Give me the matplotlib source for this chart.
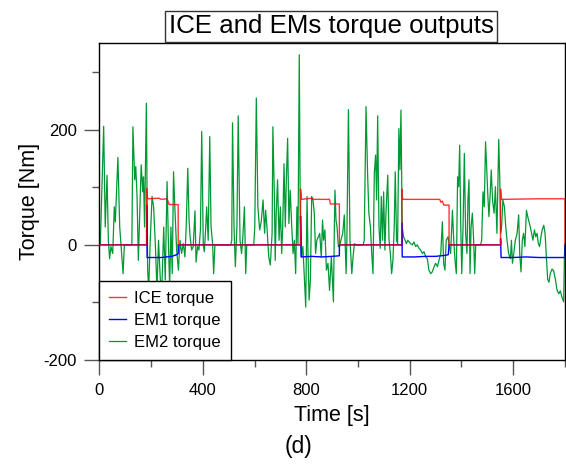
import matplotlib
matplotlib.use('Agg')
import matplotlib.pyplot as plt
from matplotlib.ticker import MultipleLocator

plt.rcParams['font.family'] = ['Liberation Sans', 'DejaVu Sans']
plt.rcParams['axes.unicode_minus'] = False

# ICE torque (step profile)
ice_t = [0, 183, 183, 186, 188, 230, 240, 262, 270, 305, 305,
         778, 778, 781, 783, 820, 830, 890, 893, 928, 928,
         1169, 1169, 1172, 1174, 1316, 1320, 1326, 1332, 1352, 1352,
         1551, 1551, 1554, 1556, 1700, 1800, 1800]
ice_v = [0, 0, 98, 82, 80, 81, 79, 80, 70, 70, 0,
         0, 97, 82, 79, 81, 79, 79, 71, 71, 0,
         0, 97, 82, 79, 79, 74, 76, 69, 69, 0,
         0, 97, 82, 79, 80, 80, 0]

# EM1 torque
em1_t = [0, 183, 183, 185, 200, 240, 260, 280, 300, 305, 305,
         778, 778, 780, 820, 860, 900, 928, 928,
         1169, 1169, 1171, 1220, 1260, 1300, 1340, 1349, 1352,
         1551, 1551, 1553, 1600, 1650, 1700, 1750, 1800, 1800]
em1_v = [0, 0, 69, -22, -22, -22, -21, -20, -17, -15, 0,
         0, 50, -21, -20, -21, -20, -19, 0,
         0, 38, -21, -21, -20, -20, -18, -17, 0,
         0, 11, -22, -22, -21, -22, -22, -22, 0]

# EM2 torque
em2_t = [0, 4, 17, 23, 30, 35, 40, 45, 52, 58, 62, 72, 79, 84, 92, 97, 126,
         130, 137, 141, 146, 151, 156, 162, 168, 171, 175, 182, 187, 191, 197,
         204, 210, 217, 223, 229, 236, 242, 249, 255, 262, 267, 272, 277, 282,
         287, 292, 299, 306, 312, 318, 325, 331, 336, 342, 347, 351, 357, 363,
         370, 374, 380, 385, 391, 396, 402, 406, 411, 415, 421, 427, 432, 438,
         442, 447, 508, 512, 515, 521, 526, 532, 537, 544, 550, 555, 561, 566,
         570, 597, 601, 607, 613, 620, 626, 633, 639, 643, 648, 655, 661, 668,
         671, 677, 680, 684, 689, 695, 700, 705, 709, 714, 719, 723, 728, 733,
         738, 744, 749, 754, 759, 764, 768, 773, 777, 782, 787, 793, 798, 803,
         807, 811, 816, 821, 826, 831, 836, 841, 847, 852, 858, 863, 867, 872,
         878, 884, 890, 897, 901, 905, 909, 911, 915, 919, 924, 929, 934, 941,
         947, 954, 957, 963, 969, 976, 981, 986, 992, 1020, 1024, 1031, 1037,
         1042, 1048, 1053, 1058, 1063, 1068, 1072, 1076, 1081, 1086, 1090, 1095,
         1099, 1104, 1108, 1115, 1120, 1125, 1130, 1135, 1140, 1144, 1149, 1153,
         1158, 1162, 1166, 1169, 1171, 1176, 1182, 1187, 1192, 1198, 1203, 1210,
         1216, 1223, 1229, 1236, 1242, 1249, 1255, 1262, 1268, 1274, 1281, 1287,
         1294, 1300, 1307, 1313, 1320, 1326, 1331, 1336, 1341, 1348, 1352, 1358,
         1365, 1370, 1375, 1380, 1385, 1389, 1393, 1397, 1401, 1406, 1411, 1416,
         1421, 1425, 1429, 1433, 1437, 1442, 1447, 1451, 1455, 1474, 1478, 1483,
         1488, 1493, 1499, 1502, 1506, 1511, 1515, 1520, 1526, 1531, 1537, 1544,
         1548, 1551, 1555, 1560, 1566, 1571, 1576, 1582, 1589, 1593, 1597, 1602,
         1608, 1615, 1621, 1625, 1630, 1635, 1640, 1645, 1651, 1656, 1661, 1666,
         1671, 1676, 1682, 1687, 1692, 1697, 1702, 1707, 1712, 1718, 1723, 1728,
         1733, 1738, 1743, 1750, 1756, 1763, 1769, 1776, 1782, 1789, 1795, 1798,
         1800]
em2_v = [5, 0, 206, 31, 121, 8, -24, -3, -15, 66, 40, 152, 31, 0, -50, 0, 0,
         205, 113, 136, 84, -27, 49, 139, 92, 118, 31, 246, -44, -76, 8,
         84, 66, -3, -79, 8, -61, -73, 31, -61, 110, 8, -73, 31, -50,
         127, 66, -9, -44, 8, -15, 2, -21, 31, 133, 43, 14, -9, -3,
         59, -30, -3, -9, 26, 197, 0, -12, 26, 66, 8, 188, 31, 2,
         -50, 0, 0, 8, 212, 26, -38, 31, 224, 8, -15, 14, 66, -50,
         0, 0, 31, 255, 66, 26, 40, 78, 20, 60, 31, -21, -35, 20,
         205, 78, -27, 55, 113, 8, 66, -15, 31, 141, 31, 113, 185, 37,
         95, 31, -15, 8, -50, 66, 2, 330, 43, -21, -3, -61, -108, 84,
         -21, -96, -61, 84, 78, 55, -15, 8, 14, 20, -21, 43, 8, 26,
         -44, -32, -79, -21, -61, -99, 43, 95, 43, 31, -3, -3, 8, 20,
         52, -50, 8, 235, 8, -50, -21, 2, 0, 0, 8, 240, 124,
         55, 31, -15, -50, 124, 156, 78, 224, 31, -6, 84, 8,
         92, -9, 55, 121, 8, -15, -50, -27, 31, 127, 8, 2,
         202, 130, 234, 107, 31, 14, 8, 2, 8, 5, 2, 0,
         5, -3, 0, -6, -9, -15, -12, -21, -24, -44, -50, -47,
         -38, -32, -38, -27, -15, 40, -32, -44, 8, 14, 0, -15,
         60, 8, -27, -50, 118, 101, 173, 37, -50, 31, 159, 20,
         -15, 78, 113, -50, 31, 55, 8, -50, 0, 0, 8, 92,
         66, 179, 113, 84, 49, 89, 130, 78, 55, 101, 20, 183,
         113, 20, 31, 78, 66, 31, 8, -15, -24, 8, -32, -15,
         8, 20, 52, -15, -47, 8, 20, -3, 60, 49, 40, 31,
         20, 8, 26, 14, 20, 2, -3, 14, 26, 34, 20, -21,
         -60, -65, -50, -42, -45, -60, -78, -85, -80, -92, -99, -15,
         0]

fig = plt.figure(figsize=(5.66, 4.74), dpi=100)
ax = fig.add_axes([0.1754, 0.2405, 0.8228, 0.6681])

l_em2, = ax.plot(em2_t, em2_v, color='#009933', lw=0.9, label='EM2 torque', zorder=1)
l_em1, = ax.plot(em1_t, em1_v, color='#0000ff', lw=1.0, label='EM1 torque', zorder=2)
l_ice, = ax.plot(ice_t, ice_v, color='#ff0000', lw=1.0, alpha=0.8, label='ICE torque', zorder=3)

ax.set_xlim(0, 1800)
ax.set_ylim(-200, 350)
ax.xaxis.set_major_locator(MultipleLocator(400))
ax.xaxis.set_minor_locator(MultipleLocator(200))
ax.yaxis.set_major_locator(MultipleLocator(200))
ax.yaxis.set_minor_locator(MultipleLocator(100))
ax.tick_params(which='major', direction='out', length=10.8, width=1,
               color='#555555', labelsize=12, pad=5.5)
ax.tick_params(which='minor', direction='out', length=5, width=1, color='#555555')
for sp in ax.spines.values():
    sp.set_linewidth(1.0)

leg = ax.legend([l_ice, l_em1, l_em2], ['ICE torque', 'EM1 torque', 'EM2 torque'],
                loc='lower left', bbox_to_anchor=(0, 0), borderaxespad=0,
                fontsize=12, fancybox=False, edgecolor='black', framealpha=1,
                handlelength=1.0, handletextpad=0.5, labelspacing=0.42,
                borderpad=0.6)
leg.get_frame().set_linewidth(1.0)

fig.text(331 / 566, 1 - 26.5 / 474, 'ICE and EMs torque outputs', fontsize=18.6,
         ha='center', va='center',
         bbox=dict(boxstyle='square,pad=0.13', fc='white', ec='#333333', lw=1.0))
fig.text(332 / 566, 1 - 415 / 474, 'Time [s]', fontsize=15.5, ha='center', va='center')
fig.text(29 / 566, 1 - 201 / 474, 'Torque [Nm]', fontsize=15.5, ha='center',
         va='center', rotation=90)
fig.text(299 / 566, 1 - 446.5 / 474, '(d)', fontsize=16.5, ha='center', va='center')

fig.savefig('out.png', dpi=100)
